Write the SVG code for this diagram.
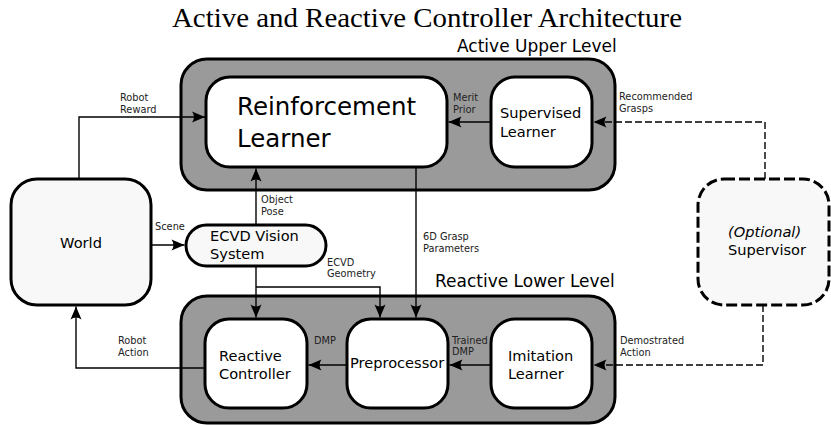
<svg xmlns="http://www.w3.org/2000/svg" width="831" height="425" viewBox="0 0 831 425">
<defs>
<style>
.cont{fill:#9a9a9a;stroke:#000;stroke-width:3}
.box{fill:#fff;stroke:#000;stroke-width:3}
.lbox{fill:#f8f8f8;stroke:#000;stroke-width:3}
.dbox{fill:#f8f8f8;stroke:#000;stroke-width:3;stroke-dasharray:11,4}
.c{fill:none;stroke:#000;stroke-width:1.4}
.d{stroke-dasharray:7,3}
.arr{marker-end:url(#ah)}
text{font-family:"DejaVu Sans","Liberation Sans",sans-serif;fill:#000}
.big{font-size:24.5px}
.nt{font-size:14.6px}
.lvl{font-size:17px}
.sm{font-size:9.8px;fill:#222}
.title{font-family:"Liberation Serif","DejaVu Serif",serif;font-size:27px}
</style>
<marker id="ah" markerUnits="userSpaceOnUse" markerWidth="16" markerHeight="14" refX="14" refY="7" orient="auto" viewBox="0 0 16 14">
<path d="M14,7 L1,1.5 Q5,7 1,12.5 Z" fill="#000"/>
</marker>
</defs>

<text class="title" x="172" y="27" textLength="510" lengthAdjust="spacingAndGlyphs">Active and Reactive Controller Architecture</text>

<g id="upper-level">
<rect class="cont" x="181" y="59" width="434" height="131" rx="26"/>
<text class="lvl" x="457" y="52">Active Upper Level</text>
</g>
<g id="lower-level">
<rect class="cont" x="181" y="296" width="434" height="127" rx="26"/>
<text class="lvl" x="435" y="287">Reactive Lower Level</text>
</g>

<g id="reinforcement-learner">
<rect class="box" x="206" y="77" width="241" height="90" rx="24"/>
<text class="big" x="237" y="115">Reinforcement</text>
<text class="big" x="237" y="147">Learner</text>
</g>
<g id="supervised-learner">
<rect class="box" x="491" y="77" width="101" height="90" rx="24"/>
<text class="nt" x="500" y="118">Supervised</text>
<text class="nt" x="500" y="137">Learner</text>
</g>
<g id="world">
<rect class="lbox" x="11" y="179" width="140" height="126" rx="26"/>
<text class="nt" x="81" y="248" text-anchor="middle">World</text>
</g>
<g id="ecvd">
<rect class="lbox" x="186" y="225" width="140" height="41" rx="20.5"/>
<text class="nt" x="210" y="241">ECVD Vision</text>
<text class="nt" x="210" y="259">System</text>
</g>
<g id="supervisor">
<rect class="dbox" x="698" y="179" width="131" height="126" rx="26"/>
<text class="nt" x="728" y="237" font-style="italic">(Optional)</text>
<text class="nt" x="728" y="255">Supervisor</text>
</g>
<g id="reactive-controller">
<rect class="box" x="205" y="319" width="102" height="89" rx="24"/>
<text class="nt" x="219" y="361">Reactive</text>
<text class="nt" x="219" y="379">Controller</text>
</g>
<g id="preprocessor">
<rect class="box" x="347" y="319" width="101" height="89" rx="24"/>
<text class="nt" x="350" y="368">Preprocessor</text>
</g>
<g id="imitation-learner">
<rect class="box" x="491" y="319" width="101" height="89" rx="24"/>
<text class="nt" x="508" y="361">Imitation</text>
<text class="nt" x="508" y="379">Learner</text>
</g>

<g id="connectors">
<path class="c arr" d="M79,179 V117 H205"/>
<path class="c arr" d="M491,122 H448.5"/>
<path class="c d arr" d="M765,179 V122 H593.5"/>
<path class="c arr" d="M256,225 V168.5"/>
<path class="c arr" d="M152,245 H184.5"/>
<path class="c arr" d="M256,266 V317.5"/>
<path class="c arr" d="M256,287 H380 V317.5"/>
<path class="c arr" d="M416,167 V317.5"/>
<path class="c arr" d="M205,368 H76 V306.5"/>
<path class="c arr" d="M347,365 H308.5"/>
<path class="c arr" d="M491,365 H449.5"/>
<path class="c d arr" d="M763,305 V365 H593.5"/>
<text class="sm" x="120" y="101">Robot</text>
<text class="sm" x="120" y="113">Reward</text>
<text class="sm" x="453" y="101">Merit</text>
<text class="sm" x="453" y="113">Prior</text>
<text class="sm" x="619" y="100">Recommended</text>
<text class="sm" x="619" y="112">Grasps</text>
<text class="sm" x="261" y="203">Object</text>
<text class="sm" x="261" y="215">Pose</text>
<text class="sm" x="155" y="230">Scene</text>
<text class="sm" x="423" y="240">6D Grasp</text>
<text class="sm" x="423" y="252">Parameters</text>
<text class="sm" x="327" y="266">ECVD</text>
<text class="sm" x="327" y="277">Geometry</text>
<text class="sm" x="118" y="344">Robot</text>
<text class="sm" x="118" y="356">Action</text>
<text class="sm" x="314" y="344">DMP</text>
<text class="sm" x="452" y="344">Trained</text>
<text class="sm" x="452" y="355">DMP</text>
<text class="sm" x="620" y="344">Demostrated</text>
<text class="sm" x="620" y="356">Action</text>
</g>
</svg>
